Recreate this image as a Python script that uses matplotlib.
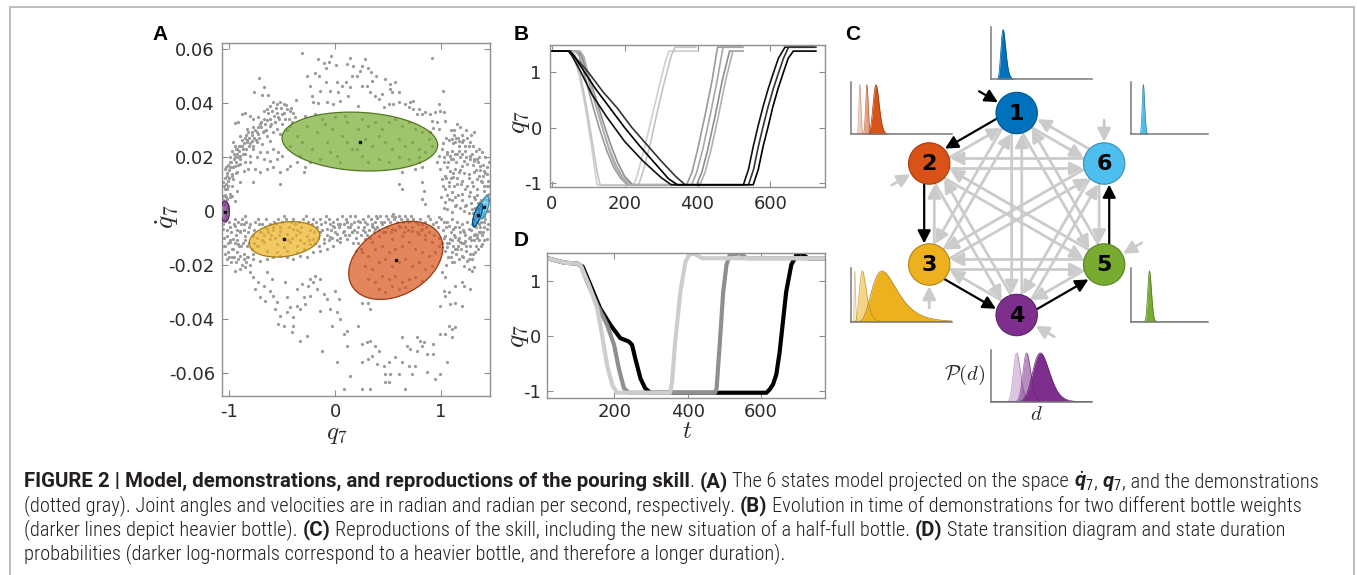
import numpy as np
import matplotlib
matplotlib.use("Agg")
import matplotlib.pyplot as plt
from matplotlib.patches import Circle, FancyArrowPatch, Rectangle
from matplotlib import font_manager
import matplotlib.colors as mcolors

# ------------------------------------------------------------------ data
# Panel A: demonstration samples (q7, dq7)
demo_upper_left = [
    (-0.315,0.0584),(-0.158,0.0561),(-0.038,0.0571),(-0.110,0.0547),(-0.057,0.0551),(0.006,0.0539),(-0.085,0.0527),
    (-0.262,0.050),(-0.195,0.051),(-0.148,0.050),(-0.718,0.049),(-0.668,0.0457),(-0.763,0.0438),(-0.693,0.0429),
    (-0.630,0.0429),(-0.369,0.041),(-0.236,0.0463),(-0.088,0.0477),(0.016,0.0477),(0.104,0.0477),(0.063,0.0463),
    (0.139,0.0457),(0.025,0.0438),(-0.142,0.0444),(-0.047,0.0444),(-0.221,0.0426),(-0.205,0.0403),(-0.158,0.0399),
    (-0.079,0.0401),(-0.016,0.0395),(0.047,0.0407),(0.126,0.0426),(0.157,0.050),(0.110,0.0543),(0.142,0.0564),(0.173,0.0537),
    (-0.583,0.0401),(-0.551,0.0395),(-0.520,0.0403),(-0.488,0.0395),(-0.457,0.0376),(-0.425,0.0370),(-0.614,0.0389),
    (-0.646,0.0376),(-0.677,0.0370),(-0.725,0.0346),(-0.772,0.0339),(-0.803,0.0349),(-0.851,0.036),(-0.882,0.0358),
    (-0.945,0.0325),(-0.914,0.0327),(-0.772,0.0309),(-0.709,0.0321),(-0.646,0.0337),(-0.614,0.0315),(-0.567,0.0327),
    (-0.536,0.0346),(-0.504,0.0358),(-0.473,0.0339),(-0.425,0.0315),(-0.725,0.0284),(-0.788,0.029),(-0.835,0.0302),
    (-0.677,0.0296),(-0.646,0.0278),(-0.583,0.029),(-0.551,0.0302),(-0.520,0.0284),(-0.898,0.0278),(-0.961,0.0253),
    (-0.929,0.0228),(-0.882,0.0241),(-0.835,0.0253),(-0.788,0.0259),(-0.740,0.0253),(-0.693,0.0247),(-0.614,0.0259),
    (-0.772,0.0228),(-0.709,0.0216),(-0.646,0.0216),(-0.583,0.0228),(-0.536,0.0216),(-0.992,0.0179),(-0.945,0.0198),
    (-0.898,0.0204),(-0.851,0.021),(-0.803,0.0204),(-0.740,0.0198),(-0.677,0.0191),(-0.614,0.0185),(-0.551,0.0191),
    (-0.504,0.0204),(-1.040,0.0154),(-0.992,0.016),(-0.945,0.0167),(-0.898,0.0173),(-0.851,0.0179),(-0.803,0.0179),
    (-0.756,0.0154),(-0.709,0.0142),(-0.646,0.0154),(-0.583,0.016),(-0.520,0.0142),(-0.457,0.0154),(-1.024,0.013),
    (-0.977,0.0136),(-0.929,0.0142),(-0.866,0.0148),(-0.819,0.0154),(-0.961,0.0117),(-0.898,0.0105),(-0.772,0.0105),
    (-0.520,0.0099),(-1.055,0.0105),(-1.040,0.008),(-1.008,0.0093),(-0.992,0.0062),(-1.024,0.0043),(-0.945,0.0037),
    (-0.977,0.0056),(-0.929,0.0074),(-1.055,0.0056),(-1.008,0.0019),(-0.299,0.0142),(-0.284,0.016),(-0.362,0.0179),
    (-0.425,0.0167),
    (-1.05,0.002),(-1.04,0.006),(-1.03,0.010),(-1.02,0.014),(-1.01,0.017),(-0.99,0.020),(-0.97,0.022),(-0.95,0.024),
    (-1.06,0.004),(-1.05,0.009),(-1.04,0.012),(-1.03,0.016),(-1.00,0.012),(-0.98,0.016),(-0.96,0.019),(-0.93,0.021),
    (-0.91,0.024),(-0.88,0.026),(-0.85,0.027),(-0.82,0.029),(-0.97,0.009),(-0.99,0.005),(-1.02,0.001),(-0.94,0.014),
    (-0.92,0.017),(-0.90,0.019),(-0.87,0.021),(-0.84,0.023),(-0.80,0.025),(-0.77,0.027),(-0.74,0.029),(-0.70,0.031),
    (-0.66,0.032),(-0.62,0.034),(-0.58,0.035),(-0.55,0.036),
    (-1.055,0.000),(-1.045,0.003),(-1.035,0.005),(-1.025,0.008),(-1.015,0.011),(-1.0,0.015),(-0.985,0.018),
    (-0.975,0.013),(-0.965,0.016),(-0.955,0.021),(-0.94,0.018),(-0.935,0.023),(-0.92,0.020),(-0.905,0.022),
    (-0.89,0.024),(-0.875,0.023),(-0.86,0.025),(-0.845,0.028),(-0.83,0.026),(-0.815,0.024),(-0.81,0.027),
    (-0.79,0.028),(-0.78,0.024),(-0.76,0.030),(-0.75,0.026),(-0.73,0.031),(-0.72,0.027),(-0.70,0.033),(-0.68,0.029),
    (-0.67,0.034),(-0.65,0.030),(-0.63,0.036),(-0.61,0.032),(-0.60,0.037),(-0.57,0.033),(-0.56,0.038),(-0.53,0.034),
    (-0.51,0.038),(-0.50,0.032),(-0.48,0.036),(-0.46,0.039),(-0.44,0.034),(-0.42,0.038),(-0.40,0.036),
    (-0.457,0.030),(-0.410,0.0327),(-0.362,0.0278),(-0.315,0.0253),(-0.268,0.0315),(-0.221,0.0228),(-0.173,0.029),
    (-0.126,0.0339),(-0.079,0.0253),(-0.032,0.0302),(0.016,0.0204),(0.063,0.0278),(0.110,0.0327),(0.157,0.0228),
    (-0.425,0.0241),(-0.331,0.0204),(-0.236,0.0179),(-0.142,0.0191),(-0.047,0.0216),(0.047,0.0179),(0.110,0.0253),
    (-0.378,0.0346),(-0.284,0.0352),(-0.189,0.0358),(-0.095,0.0321),(0.0,0.0346),(0.094,0.0352),
]
demo_upper_right = [
    (0.284,0.0561),(0.252,0.0537),(0.315,0.053),(0.340,0.0512),(0.236,0.0518),(0.347,0.0481),(0.252,0.0463),
    (0.331,0.0438),(0.378,0.0426),(0.410,0.0413),(0.441,0.0432),(0.520,0.0469),(0.567,0.0475),(0.599,0.0438),
    (0.536,0.0438),(0.520,0.045),(0.457,0.0383),(0.504,0.0395),(0.551,0.0395),(0.599,0.0401),(0.662,0.0395),
    (0.709,0.0401),(0.740,0.0407),(0.693,0.0383),(0.740,0.0376),(0.788,0.0376),(0.772,0.0358),(0.819,0.0358),
    (0.851,0.0364),(0.898,0.0358),(0.945,0.0364),(0.992,0.037),(1.024,0.0364),(0.914,0.0333),(0.961,0.0327),
    (0.929,0.0308),(0.977,0.0302),(0.898,0.029),(1.015,0.0444),(0.914,0.0567),(0.977,0.0395),(1.040,0.0333),
    (0.473,0.0487),(0.384,0.050),(0.299,0.0463),(0.205,0.050),(0.220,0.0389),
    (0.252,0.0339),(0.315,0.0315),(0.378,0.0327),(0.441,0.0302),(0.504,0.0327),(0.567,0.0339),(0.630,0.0315),
    (0.693,0.0327),(0.756,0.0302),(0.819,0.029),(0.882,0.0265),(0.284,0.0265),(0.347,0.0241),(0.410,0.0278),
    (0.473,0.0253),(0.536,0.0228),(0.599,0.0265),(0.662,0.0241),(0.725,0.0253),(0.788,0.0228),(0.851,0.0216),
    (0.914,0.0241),(0.252,0.0204),(0.315,0.0179),(0.410,0.0191),(0.504,0.0179),(0.599,0.0198),(0.693,0.0191),
    (0.788,0.0198),(0.220,0.0302),(0.205,0.0228),
    (0.788,0.0179),(0.819,0.016),(0.756,0.0154),(0.630,0.0142),(0.599,0.0099),(0.630,0.008),(0.819,0.0105),
    (0.835,0.0074),(0.819,0.0043),(0.851,0.0025),(1.040,0.0031),(1.055,0.0006),(1.103,-0.0006),(0.551,-0.0012),
    (0.567,-0.0024),(0.394,-0.0028),(0.977,-0.0024),
    (1.103,0.0265),(1.134,0.0253),(1.166,0.0259),(1.197,0.0253),(1.229,0.0241),(1.276,0.0253),(1.308,0.029),
    (1.355,0.0228),(1.386,0.0216),(1.418,0.0198),(1.449,0.0179),(1.008,0.0228),(1.055,0.0216),(1.087,0.0204),
    (1.118,0.0191),(1.150,0.021),(1.181,0.0198),(1.213,0.0185),(1.245,0.0173),(1.276,0.0204),(1.308,0.0185),
    (1.339,0.0191),(1.370,0.0167),(1.402,0.0148),(1.433,0.0136),(1.024,0.0179),(1.055,0.016),(1.087,0.0148),
    (1.134,0.0154),(1.166,0.0142),(1.197,0.0167),(1.260,0.0136),(1.308,0.0142),(1.339,0.0117),(1.386,0.0105),
    (1.433,0.0093),(1.008,0.0117),(1.040,0.013),(1.071,0.0105),(1.118,0.0123),(1.150,0.0099),(1.197,0.0111),
    (1.245,0.0093),(1.292,0.0105),(1.339,0.008),(1.402,0.0074),(1.449,0.0062),(1.040,0.008),(1.103,0.0068),
    (1.134,0.0049),(1.197,0.0062),(1.260,0.0056),(1.323,0.0043),(1.370,0.0031),(1.418,0.0043),(1.071,0.0043),
    (1.134,0.0019),(1.229,0.0019),(1.292,0.0006),(1.355,0.0006),(0.992,0.0154),(0.961,0.0179),(0.977,0.0204),
    (1.12,0.028),(1.16,0.027),(1.20,0.028),(1.25,0.027),(1.30,0.024),(1.33,0.022),(1.36,0.020),(1.40,0.017),
    (1.42,0.014),(1.44,0.011),(1.10,0.022),(1.14,0.018),(1.18,0.015),(1.22,0.014),(1.26,0.012),(1.30,0.009),
    (1.34,0.006),(1.38,0.004),(1.42,0.002),(1.44,0.0),(1.07,0.018),(1.09,0.012),(1.12,0.009),(1.16,0.006),
    (1.20,0.004),(1.24,0.002),(1.28,0.003),(1.32,0.001),
    (1.02,0.025),(1.05,0.027),(1.08,0.026),(1.11,0.025),(1.14,0.027),(1.17,0.024),(1.21,0.026),(1.23,0.022),
    (1.26,0.024),(1.29,0.021),(1.31,0.019),(1.35,0.018),(1.37,0.015),(1.40,0.013),(1.43,0.016),(1.45,0.009),
    (1.44,0.004),(1.43,0.006),(1.41,0.009),(1.38,0.011),(1.36,0.013),(1.33,0.015),(1.30,0.017),(1.27,0.019),
    (1.24,0.020),(1.20,0.021),(1.17,0.022),(1.13,0.021),(1.09,0.019),(1.06,0.021),(1.03,0.020),(1.05,0.012),
    (1.08,0.009),(1.11,0.014),(1.15,0.012),(1.19,0.010),(1.23,0.008),(1.27,0.007),(1.31,0.005),(1.35,0.003),
    (1.39,0.001),(1.41,-0.002),(1.06,0.006),(1.10,0.004),(1.14,0.002),(1.18,0.001),(1.22,0.000),(1.26,-0.001),
    (1.30,-0.001),(1.34,-0.004),(1.03,0.001),(1.00,0.005),(1.02,0.009),(1.12,0.030),(1.18,0.031),(1.24,0.030),
    (1.28,0.028),(1.15,0.032),(1.09,0.030),
]
demo_lower_left = [
    (-1.055,-0.0068),(-1.024,-0.0093),(-0.992,-0.0117),(-0.961,-0.0142),(-0.929,-0.0154),(-1.040,-0.013),
    (-1.008,-0.0154),(-0.977,-0.0173),(-0.898,-0.0167),(-0.866,-0.0179),(-0.835,-0.0173),(-0.772,-0.0179),
    (-0.709,-0.0185),(-0.646,-0.0179),(-0.583,-0.0173),(-0.520,-0.0167),(-0.457,-0.0173),(-0.394,-0.0179),
    (-0.331,-0.0167),(-0.268,-0.0173),(-0.205,-0.0154),(-0.142,-0.0148),(-0.079,-0.0142),(-0.016,-0.013),
    (0.047,-0.0117),(0.110,-0.0105),(-0.142,-0.008),(-0.079,-0.0068),(-0.016,-0.0056),(0.047,-0.005),(0.110,-0.0043),
    (0.157,-0.008),(-0.110,-0.0105),(-0.047,-0.0099),(0.016,-0.0087),(0.079,-0.0074),(0.142,-0.0062),(-0.945,-0.0056),
    (-0.898,-0.0074),(-0.851,-0.0093),(-0.866,-0.005),(-0.961,-0.0105),(-0.914,-0.0123),
    (-1.04,-0.003),(-1.00,-0.004),(-0.96,-0.005),(-0.92,-0.004),(-0.88,-0.003),(-0.84,-0.004),(-0.80,-0.005),
    (-0.76,-0.004),(-0.72,-0.005),(-1.02,-0.007),(-0.98,-0.008),(-0.94,-0.009),(-0.90,-0.008),(-0.86,-0.007),
    (-0.82,-0.008),(-0.78,-0.009),(-0.74,-0.010),(-0.70,-0.008),(-0.66,-0.006),(-0.62,-0.005),(-0.58,-0.004),
    (-0.54,-0.003),(-0.50,-0.004),(-0.46,-0.003),(-0.42,-0.004),(-0.38,-0.005),(-0.34,-0.004),(-0.30,-0.003),
    (-0.26,-0.004),(-0.22,-0.005),(-0.18,-0.004),(-0.14,-0.003),(-0.10,-0.004),(-0.06,-0.003),(-0.02,-0.004),
    (0.02,-0.003),(0.06,-0.002),(0.10,-0.003),(0.14,-0.002),(-0.20,-0.008),(-0.16,-0.010),(-0.12,-0.007),
    (-0.08,-0.009),(-0.04,-0.007),(0.0,-0.008),(0.04,-0.006),(0.08,-0.005),(0.12,-0.006),(-0.99,-0.011),
    (-0.95,-0.012),(-0.91,-0.013),(-0.87,-0.012),(-0.83,-0.013),(-0.79,-0.014),(-1.05,-0.010),(-1.06,-0.005),
    (-1.03,-0.002),(-0.99,-0.006),(-0.95,-0.003),(-0.93,-0.007),(-0.89,-0.005),(-0.85,-0.002),(-0.81,-0.006),
    (-0.77,-0.007),(-0.73,-0.003),(-0.69,-0.005),(-0.65,-0.003),(-0.63,-0.008),(-0.59,-0.007),(-0.56,-0.005),
    (-0.52,-0.006),(-0.48,-0.002),(-0.44,-0.006),(-0.40,-0.003),(-0.36,-0.007),(-0.32,-0.006),(-0.28,-0.002),
    (-0.24,-0.007),(-0.21,-0.003),(-0.17,-0.006),(-0.13,-0.005),(-0.09,-0.002),(-0.05,-0.005),(-0.01,-0.006),
    (0.03,-0.005),(0.07,-0.008),(0.11,-0.004),(0.15,-0.005),
    (-1.01,-0.012),(-0.97,-0.014),(-0.93,-0.011),(-0.89,-0.013),(-0.85,-0.011),(-0.81,-0.012),(-0.77,-0.012),
    (-0.73,-0.013),(-0.69,-0.011),(-0.67,-0.009),(-0.61,-0.009),(-0.57,-0.010),(-0.53,-0.009),(-0.49,-0.010),
    (-0.45,-0.011),(-0.41,-0.010),(-0.37,-0.009),(-0.33,-0.011),(-0.29,-0.012),(-0.25,-0.011),(-0.19,-0.012),
    (-0.15,-0.013),(-0.11,-0.012),(-0.06,-0.011),(-0.03,-0.010),(0.02,-0.011),(0.05,-0.010),(0.09,-0.009),(0.13,-0.009),
    (-1.05,-0.013),(-1.04,-0.016),(-1.02,-0.018),(-1.00,-0.017),(-0.98,-0.019),(-0.96,-0.017),(-0.94,-0.019),
    (-0.92,-0.018),(-0.88,-0.020),(-0.86,-0.016),(-0.84,-0.019),(-0.82,-0.017),(-0.80,-0.020),(-0.78,-0.016),
    (-0.772,-0.0093),(-0.709,-0.008),(-0.646,-0.0068),(-0.583,-0.0062),(-0.520,-0.0074),(-0.457,-0.0087),
    (-0.394,-0.0068),(-0.331,-0.008),(-0.268,-0.0093),(-0.205,-0.0105),(-0.740,-0.013),(-0.677,-0.0117),
    (-0.614,-0.0105),(-0.551,-0.0123),(-0.488,-0.0136),(-0.425,-0.0117),(-0.362,-0.013),(-0.299,-0.0142),
    (-0.236,-0.0123),(-0.646,-0.0148),(-0.551,-0.0154),(-0.457,-0.0148),(-0.362,-0.0154),
    (-0.945,-0.0222),(-0.898,-0.0216),(-0.851,-0.021),(-0.803,-0.0228),(-0.772,-0.0247),(-0.725,-0.0265),
    (-0.756,-0.029),(-0.709,-0.0321),(-0.662,-0.0333),(-0.614,-0.0296),(-0.583,-0.0315),(-0.551,-0.0339),
    (-0.567,-0.0364),(-0.520,-0.0389),(-0.536,-0.042),(-0.488,-0.0426),(-0.457,-0.0376),(-0.425,-0.0358),
    (-0.394,-0.0395),(-0.362,-0.0352),(-0.331,-0.0364),(-0.299,-0.0321),(-0.284,-0.0346),(-0.252,-0.0278),
    (-0.236,-0.0253),(-0.205,-0.0265),(-0.189,-0.0241),(-0.173,-0.029),(-0.142,-0.0253),(-0.110,-0.0309),
    (-0.079,-0.0327),(-0.047,-0.0364),(0.0,-0.0296),(0.016,-0.0376),(0.032,-0.0327),(0.047,-0.0401),
    (-0.394,-0.0426),(-0.410,-0.045),(-0.268,-0.0463),(-0.331,-0.0481),(-0.126,-0.052),(0.016,-0.0561),
    (0.079,-0.0456),(0.110,-0.050),(0.142,-0.0611),(0.079,-0.066),(-0.457,-0.0321),(-0.473,-0.0265),
    (-0.646,-0.0228),(-0.677,-0.0278),(-0.599,-0.0253),(-0.362,-0.029),(-0.315,-0.0271),(-0.236,-0.0315),
    (-0.142,-0.037),(-0.032,-0.0426),(0.110,-0.0444),
]
demo_lower_right = [
    (1.024,-0.0043),(1.071,-0.0056),(1.118,-0.0068),(1.166,-0.0062),(1.213,-0.008),(1.260,-0.0068),(1.308,-0.0056),
    (1.355,-0.005),(1.402,-0.0043),(1.040,-0.0093),(1.087,-0.0105),(1.134,-0.0099),(1.181,-0.0117),(1.229,-0.0111),
    (1.276,-0.0099),(1.323,-0.0087),(1.370,-0.008),(1.433,-0.0068),(1.055,-0.0136),(1.103,-0.0154),(1.150,-0.0142),
    (1.197,-0.0167),(1.245,-0.0185),(1.292,-0.0179),(1.323,-0.0154),(1.386,-0.0123),(1.433,-0.0105),(1.103,-0.0191),
    (1.213,-0.0204),(1.260,-0.0216),(1.292,-0.0222),(1.308,-0.021),(1.008,-0.0228),(1.040,-0.0247),(1.197,-0.0265),
    (1.213,-0.0278),(1.134,-0.0278),(1.276,-0.029),(1.024,-0.0296),(1.040,-0.0315),(1.071,-0.0302),(0.992,-0.0352),
    (1.087,-0.0346),(1.134,-0.034),(1.197,-0.0352),
    (1.10,-0.003),(1.15,-0.004),(1.20,-0.005),(1.25,-0.004),(1.30,-0.003),(1.35,-0.002),(1.40,-0.001),(1.05,-0.006),
    (1.12,-0.009),(1.18,-0.008),(1.23,-0.009),(1.28,-0.007),(1.33,-0.006),(1.38,-0.004),(1.08,-0.012),(1.16,-0.013),
    (1.22,-0.012),(1.27,-0.013),(1.31,-0.011),(1.36,-0.008),(1.41,-0.006),(1.00,-0.003),(0.95,-0.004),(0.90,-0.003),
    (0.85,-0.004),(0.80,-0.003),
    (1.03,-0.010),(1.06,-0.012),(1.10,-0.011),(1.13,-0.014),(1.16,-0.011),(1.20,-0.012),(1.24,-0.013),(1.28,-0.011),
    (1.31,-0.009),(1.34,-0.010),(1.37,-0.008),(1.40,-0.008),(1.05,-0.020),(1.09,-0.017),(1.12,-0.019),(1.17,-0.018),
    (1.21,-0.017),(1.26,-0.018),(1.30,-0.016),(1.35,-0.014),(1.38,-0.013),
    (0.19,-0.002),(0.23,-0.004),(0.27,-0.006),(0.31,-0.002),(0.35,-0.005),(0.39,-0.002),(0.43,-0.004),(0.48,-0.002),
    (0.52,-0.004),(0.56,-0.003),(0.60,-0.002),(0.64,-0.004),(0.68,-0.003),(0.72,-0.002),(0.76,-0.004),(0.82,-0.005),
    (0.86,-0.006),(0.88,-0.002),(0.92,-0.005),(0.97,-0.006),(1.02,-0.007),(1.06,-0.004),(1.09,-0.008),(1.13,-0.006),
    (1.17,-0.010),(1.21,-0.007),(1.26,-0.010),(1.29,-0.005),(1.34,-0.009),(1.37,-0.006),(1.39,-0.002),(1.42,-0.003),
    (1.44,-0.005),
    (0.18,-0.007),(0.22,-0.012),(0.26,-0.007),(0.30,-0.009),(0.33,-0.010),(0.37,-0.008),(0.41,-0.007),(0.45,-0.008),
    (0.49,-0.006),(0.53,-0.008),(0.57,-0.007),(0.61,-0.006),(0.65,-0.008),(0.69,-0.007),(0.73,-0.006),(0.77,-0.008),
    (0.81,-0.007),(0.85,-0.009),(0.89,-0.008),(0.93,-0.009),(0.98,-0.010),(1.01,-0.012),(1.04,-0.015),(1.07,-0.017),
    (1.11,-0.013),(1.14,-0.016),(1.19,-0.014),(1.24,-0.015),(1.27,-0.016),(1.33,-0.013),(1.36,-0.011),(1.39,-0.009),
    (1.41,-0.011),
    (0.220,-0.0037),(0.284,-0.0043),(0.347,-0.0056),(0.205,-0.008),
    (0.18,-0.004),(0.22,-0.006),(0.26,-0.003),(0.30,-0.005),(0.34,-0.003),(0.38,-0.004),(0.42,-0.002),(0.46,-0.004),
    (0.50,-0.003),(0.54,-0.002),(0.58,-0.004),(0.62,-0.003),(0.66,-0.002),(0.70,-0.004),(0.74,-0.003),(0.78,-0.005),
    (0.16,-0.008),(0.20,-0.010),(0.24,-0.009),(0.28,-0.008),(0.32,-0.007),(0.36,-0.006),(0.40,-0.006),(0.44,-0.005),
    (0.24,-0.014),(0.20,-0.015),(0.17,-0.012),
    (0.284,-0.0105),(0.347,-0.0117),(0.410,-0.0093),(0.473,-0.008),(0.536,-0.0068),(0.599,-0.0056),(0.662,-0.0062),
    (0.725,-0.0074),(0.788,-0.0087),(0.851,-0.0105),(0.914,-0.0117),(0.977,-0.013),(0.252,-0.0154),(0.315,-0.0167),
    (0.378,-0.0142),(0.441,-0.013),(0.504,-0.0154),(0.567,-0.0142),(0.630,-0.013),(0.693,-0.0117),(0.756,-0.0142),
    (0.819,-0.0154),(0.882,-0.0167),(0.945,-0.0154),(0.284,-0.0204),(0.347,-0.0216),(0.410,-0.0191),(0.473,-0.0179),
    (0.536,-0.0204),(0.599,-0.0191),(0.662,-0.0179),(0.725,-0.0204),(0.788,-0.0191),(0.851,-0.0216),(0.914,-0.0204),
    (0.315,-0.0253),(0.378,-0.0265),(0.441,-0.0241),(0.504,-0.0253),(0.567,-0.0241),(0.630,-0.0265),(0.693,-0.0253),
    (0.756,-0.0247),(0.819,-0.0259),(0.410,-0.029),(0.473,-0.0302),(0.536,-0.0278),(0.599,-0.029),(0.662,-0.0284),
    (0.536,-0.0105),(0.630,-0.0093),(0.819,-0.0068),(0.378,-0.0068),
    (0.252,-0.034),(0.315,-0.034),(0.331,-0.0364),(0.220,-0.0426),(1.071,-0.0426),(1.103,-0.0438),(1.134,-0.0432),
    (1.040,-0.0456),(0.992,-0.0456),(1.103,-0.0469),(0.630,-0.0469),(0.772,-0.0469),(0.803,-0.0481),(0.835,-0.0487),
    (0.252,-0.0493),(0.299,-0.0487),(0.331,-0.0481),(0.378,-0.050),(0.347,-0.0537),(0.410,-0.0518),(0.394,-0.0567),
    (0.457,-0.0574),(0.504,-0.0561),(0.567,-0.0543),(0.630,-0.0561),(0.677,-0.050),(0.709,-0.0512),(0.772,-0.0518),
    (0.819,-0.050),(0.866,-0.053),(0.929,-0.053),(0.929,-0.0493),(0.693,-0.0574),(0.756,-0.0574),(0.252,-0.0561),
    (0.315,-0.0549),(0.473,-0.0604),(0.520,-0.0604),(0.599,-0.0604),(0.725,-0.0604),(0.866,-0.0598),(0.945,-0.0623),
    (0.992,-0.0604),(1.055,-0.0561),(0.473,-0.0635),(0.504,-0.0635),(0.252,-0.066),(0.331,-0.066),(0.662,-0.066),
]

# Panel A: Gaussian states (means, std-devs, correlation)
state_labels = ['1', '2', '3', '4', '5', '6']
state_colors = ['#0072BD', '#D95319', '#EDB120', '#7E2F8E', '#77AC30', '#4DBEEE']
state_q = [1.345, 0.573, -0.479, -1.039, 0.233, 1.408]
state_dq = [-0.0016, -0.0184, -0.0106, -0.0003, 0.0256, 0.0012]
state_sq = [0.047, 0.445, 0.334, 0.040, 0.735, 0.047]
state_sdq = [0.0043, 0.01445, 0.00655, 0.0039, 0.0109, 0.0043]
state_rho = [0.70, 0.33, 0.22, 0.0, -0.12, 0.60]

A_xticks = [-1, 0, 1]
A_xticklabels = ['-1', '0', '1']
A_yticks = [0.06, 0.04, 0.02, 0.0, -0.02, -0.04, -0.06]
A_yticklabels = ['0.06', '0.04', '0.02', '0', '-0.02', '-0.04', '-0.06']

# Panel B: demonstrations q7(t)
B_light = [
    ([0, 52, 60, 75, 90, 105, 118, 124, 225, 235, 255, 275, 295, 312, 322, 400],
     [1.38, 1.38, 1.30, 0.95, 0.45, -0.15, -0.75, -1.03, -1.03, -0.85, -0.35, 0.2, 0.75, 1.2, 1.38, 1.38]),
    ([0, 58, 66, 80, 96, 112, 126, 133, 238, 250, 270, 290, 310, 328, 338, 395],
     [1.38, 1.38, 1.28, 0.9, 0.35, -0.3, -0.85, -1.04, -1.04, -0.8, -0.3, 0.3, 0.85, 1.3, 1.45, 1.45]),
]
B_mid = [
    ([0, 65, 75, 90, 110, 130, 150, 170, 190, 208, 370, 385, 400, 420, 440, 455, 522],
     [1.38, 1.38, 1.30, 0.95, 0.45, 0.0, -0.40, -0.72, -0.92, -1.03, -1.03, -0.80, -0.40, 0.20, 0.85, 1.45, 1.45]),
    ([0, 70, 80, 95, 115, 135, 155, 175, 195, 218, 384, 398, 414, 434, 454, 470, 525],
     [1.38, 1.38, 1.30, 0.98, 0.52, 0.08, -0.33, -0.66, -0.90, -1.03, -1.03, -0.80, -0.40, 0.20, 0.85, 1.45, 1.45]),
    ([0, 72, 82, 100, 120, 140, 160, 180, 200, 222, 398, 412, 428, 448, 468, 488, 525],
     [1.38, 1.38, 1.30, 0.95, 0.55, 0.12, -0.28, -0.62, -0.88, -1.03, -1.03, -0.80, -0.40, 0.20, 0.85, 1.38, 1.38]),
    ([0, 78, 88, 102, 120, 138, 156, 174, 194, 215, 407, 421, 437, 457, 477, 497, 525],
     [1.38, 1.38, 1.28, 0.92, 0.45, 0.02, -0.38, -0.70, -0.92, -1.03, -1.03, -0.80, -0.40, 0.20, 0.85, 1.38, 1.38]),
]
B_dark = [
    ([0, 45, 55, 80, 110, 150, 200, 250, 300, 328, 526, 540, 553, 566, 580, 594, 608, 622, 640, 720],
     [1.38, 1.38, 1.30, 1.0, 0.6, 0.2, -0.25, -0.6, -0.9, -1.03, -1.03, -0.75, -0.34, 0.02, 0.38, 0.7, 0.98, 1.25, 1.45, 1.45]),
    ([0, 48, 60, 100, 140, 180, 220, 260, 300, 340, 366, 540, 554, 567, 580, 594, 608, 622, 636, 650, 725],
     [1.38, 1.38, 1.30, 1.0, 0.65, 0.35, 0.0, -0.3, -0.6, -0.88, -1.03, -1.03, -0.75, -0.34, 0.02, 0.38, 0.7, 0.98, 1.25, 1.45, 1.45]),
    ([0, 50, 62, 90, 120, 160, 200, 240, 280, 320, 345, 553, 567, 580, 594, 607, 621, 635, 649, 663, 725],
     [1.38, 1.38, 1.28, 1.0, 0.7, 0.35, 0.0, -0.32, -0.62, -0.92, -1.03, -1.03, -0.75, -0.34, 0.02, 0.38, 0.7, 0.98, 1.25, 1.38, 1.38]),
]
B_light_colors = ['#cfcfcf', '#c4c4c4']
B_mid_colors = ['#9a9a9a', '#a6a6a6', '#8e8e8e', '#b0b0b0']
B_dark_colors = ['#111111', '#333333', '#000000']

# Panel D: reproductions q7(t)
D_black_t = [17, 63, 100, 113, 134, 161, 189, 216, 239, 248, 257, 271, 284, 298, 615, 624, 633, 642, 651, 660, 669, 683, 697, 710, 728, 774]
D_black_q = [1.41, 1.33, 1.31, 1.26, 0.93, 0.50, 0.20, -0.04, -0.10, -0.16, -0.41, -0.77, -0.95, -1.03, -1.03, -0.97, -0.88, -0.70, -0.30, 0.25, 0.80, 1.29, 1.47, 1.50, 1.41, 1.41]
D_gray_t = [17, 63, 100, 110, 125, 153, 180, 199, 212, 226, 240, 475, 479, 488, 497, 506, 515, 543, 561, 774]
D_gray_q = [1.41, 1.33, 1.31, 1.25, 0.99, 0.56, 0.20, -0.16, -0.59, -0.95, -1.03, -1.03, -0.95, -0.10, 0.80, 1.29, 1.47, 1.50, 1.41, 1.41]
D_light_t = [17, 63, 100, 107, 130, 153, 166, 180, 194, 207, 352, 357, 366, 380, 394, 407, 425, 439, 774]
D_light_q = [1.41, 1.33, 1.31, 1.29, 0.93, 0.50, 0.02, -0.53, -0.89, -1.03, -1.03, -0.85, -0.10, 0.80, 1.35, 1.50, 1.47, 1.41, 1.41]

# Panel C: duration log-normals (mode, log-sigma), lighter -> darker
dur_modes = [[0.12], [0.09, 0.16, 0.25], [0.04, 0.115, 0.31], [0.255, 0.354, 0.49], [0.24], [0.16]]
dur_sigmas = [[0.20], [0.11, 0.08, 0.12], [0.17, 0.30, 0.40], [0.14, 0.11, 0.17], [0.10], [0.10]]
node_angles = [90, 150, 210, 270, 330, 30]
sequence_edges = [(0, 1), (1, 2), (2, 3), (3, 4), (4, 5)]

caption_lines = [
    [("FIGURE 2 | Model, demonstrations, and reproductions of the pouring skill", 'b'), (". ", 'r'), ("(A)", 'b'),
     (" The 6 states model projected on the space ", 'r'), (r"$\dot{\mathbf{q}}_7$", 'm'), (", ", 'r'),
     (r"$\mathbf{q}_7$", 'm'), (", and the demonstrations", 'r')],
    [("(dotted gray). Joint angles and velocities are in radian and radian per second, respectively. ", 'r'), ("(B)", 'b'),
     (" Evolution in time of demonstrations for two different bottle weights", 'r')],
    [("(darker lines depict heavier bottle). ", 'r'), ("(C)", 'b'),
     (" Reproductions of the skill, including the new situation of a half-full bottle. ", 'r'), ("(D)", 'b'),
     (" State transition diagram and state duration", 'r')],
    [("probabilities (darker log-normals correspond to a heavier bottle, and therefore a longer duration).", 'r')],
]

# ------------------------------------------------------------------ setup
avail = {f.name for f in font_manager.fontManager.ttflist}
cap_font = 'Liberation Sans'
for cand in ['Liberation Sans Narrow', 'Roboto Condensed', 'Liberation Sans']:
    if cand in avail:
        cap_font = cand
        break
bold_font = 'Roboto' if 'Roboto' in avail else cap_font

plt.rcParams['axes.unicode_minus'] = False
plt.rcParams['font.family'] = ['DejaVu Sans']
plt.rcParams['mathtext.rm'] = cap_font
plt.rcParams['mathtext.it'] = cap_font + ':italic'
plt.rcParams['mathtext.bf'] = bold_font + ':italic:bold'

W, H = 1357, 575
fig = plt.figure(figsize=(W / 100, H / 100), dpi=100)
fig.patch.set_facecolor('white')


def box(x0, y0, x1, y1):
    return [x0 / W, 1 - y1 / H, (x1 - x0) / W, (y1 - y0) / H]


def darker(c, f=0.7):
    r, g, b = mcolors.to_rgb(c)
    return (r * f, g * f, b * f)


def style_axes(ax, fs, pad):
    for s in ax.spines.values():
        s.set_color('#8f8f8f')
        s.set_linewidth(1.0)
    ax.tick_params(direction='in', length=4, width=0.8, color='#8f8f8f', labelsize=fs,
                   labelcolor='#2b2b2b', top=True, right=True, pad=pad)


label_color = '#2b2b2b'

# frame
fig.add_artist(Rectangle((10 / W, -0.05), 1344 / W, 1 - 7 / H + 0.05, transform=fig.transFigure,
                         fill=False, ec='#b8b8b8', lw=1.3))

# ------------------------------------------------------------------ Panel A
axA = fig.add_axes(box(221.7, 42.7, 490, 396))
pts = np.array(demo_upper_left + demo_upper_right + demo_lower_left + demo_lower_right)
axA.scatter(pts[:, 0], pts[:, 1], s=5.5, c='#9b9b9b', linewidths=0, zorder=1)
tt = np.linspace(0, 2 * np.pi, 240)
for k in [3, 2, 1, 4, 0, 5]:
    col = state_colors[k]
    ex = state_q[k] + state_sq[k] * np.cos(tt)
    ey = state_dq[k] + state_sdq[k] * (state_rho[k] * np.cos(tt) + np.sqrt(1 - state_rho[k] ** 2) * np.sin(tt))
    axA.fill(ex, ey, fc=col, alpha=0.7, lw=0, zorder=2)
    axA.plot(ex, ey, color=darker(col), lw=0.9, zorder=3)
    axA.plot([state_q[k]], [state_dq[k]], 's', ms=2, color='#111111', zorder=4)
axA.set_xlim(-1.072, 1.463)
axA.set_ylim(-0.0686, 0.0622)
axA.set_xticks(A_xticks)
axA.set_xticklabels(A_xticklabels)
axA.set_yticks(A_yticks)
axA.set_yticklabels(A_yticklabels)
style_axes(axA, 13, 5)
fig.text(167 / W, 1 - 216 / H, r'$\dot{q}_7$', rotation=90, ha='center', va='center', fontsize=20,
         math_fontfamily='cm', color=label_color)
fig.text(337 / W, 1 - 434 / H, r'$q_7$', ha='center', va='center', fontsize=18,
         math_fontfamily='cm', color=label_color)

# ------------------------------------------------------------------ Panel B
axB = fig.add_axes(box(550, 45, 825, 186.7))
for (t, q), c in zip(B_light, B_light_colors):
    axB.plot(t, q, color=c, lw=1.2)
for (t, q), c in zip(B_mid, B_mid_colors):
    axB.plot(t, q, color=c, lw=1.2)
for (t, q), c in zip(B_dark, B_dark_colors):
    axB.plot(t, q, color=c, lw=1.2)
axB.set_xlim(-5, 750)
axB.set_ylim(-1.065, 1.49)
axB.set_xticks([0, 200, 400, 600])
axB.set_yticks([-1, 0, 1])
style_axes(axB, 13, 6)
fig.text(518 / W, 1 - 122 / H, r'$q_7$', rotation=90, ha='center', va='center', fontsize=20,
         math_fontfamily='cm', color=label_color)

# ------------------------------------------------------------------ Panel D
axD = fig.add_axes(box(546.7, 252.7, 825, 397.7))
axD.plot(D_black_t, D_black_q, color='#000000', lw=3.0, solid_joinstyle='round')
axD.plot(D_gray_t, D_gray_q, color='#8f8f8f', lw=3.0, solid_joinstyle='round')
axD.plot(D_light_t, D_light_q, color='#cdcdcd', lw=3.0, solid_joinstyle='round')
axD.set_xlim(15, 775)
axD.set_ylim(-1.12, 1.51)
axD.set_xticks([200, 400, 600])
axD.set_yticks([-1, 0, 1])
style_axes(axD, 13, 4)
fig.text(517 / W, 1 - 336 / H, r'$q_7$', rotation=90, ha='center', va='center', fontsize=20,
         math_fontfamily='cm', color=label_color)
fig.text(687 / W, 1 - 431 / H, r'$t$', ha='center', va='center', fontsize=18,
         math_fontfamily='cm', color=label_color)

# ------------------------------------------------------------------ Panel C
axC = fig.add_axes(box(1016.7 - 151.5, 214 - 151.5, 1016.7 + 151.5, 214 + 151.5))
axC.set_xlim(-1.5, 1.5)
axC.set_ylim(-1.5, 1.5)
axC.set_aspect('equal')
axC.axis('off')
centers = np.array([[np.cos(np.radians(a)), np.sin(np.radians(a))] for a in node_angles])
r_node = 0.205
off = 0.05


def edge(i, j, color, lw, z):
    ci, cj = centers[i], centers[j]
    u = (cj - ci) / np.linalg.norm(cj - ci)
    n = np.array([u[1], -u[0]])
    rr = np.sqrt(r_node ** 2 - off ** 2)
    p0 = ci + u * rr + n * off
    p1 = cj - u * (rr + 0.01) + n * off
    axC.add_patch(FancyArrowPatch(p0, p1, arrowstyle='-|>,head_length=0.55,head_width=0.28',
                                  mutation_scale=14, color=color, lw=lw, shrinkA=0, shrinkB=0, zorder=z))


for i in range(6):
    for j in range(6):
        if i != j and (i, j) not in sequence_edges:
            edge(i, j, '#cbcbcb', 2.0, 1)
for (i, j) in sequence_edges:
    edge(i, j, '#000000', 1.6, 2)
for k in range(6):
    a = np.radians(node_angles[k] + 60)
    dvec = np.array([np.cos(a), np.sin(a)])
    col = '#000000' if k == 0 else '#cbcbcb'
    axC.add_patch(FancyArrowPatch(centers[k] + 0.43 * dvec, centers[k] + (r_node + 0.01) * dvec,
                                  arrowstyle='-|>,head_length=0.55,head_width=0.28', mutation_scale=14,
                                  color=col, lw=1.6 if k == 0 else 2.0, shrinkA=0, shrinkB=0, zorder=2))
for k in range(6):
    axC.add_patch(Circle(centers[k], r_node, fc=state_colors[k], ec=darker(state_colors[k], 0.75), lw=0.8, zorder=3))
    axC.text(centers[k][0], centers[k][1] - 0.005, state_labels[k], ha='center', va='center', fontsize=16,
             fontweight='bold', color='black', zorder=4)

# duration histograms
hist_boxes = [(991, 26.7, 1091.7, 79.3), (850.7, 81.7, 951.7, 134.3), (850.7, 268, 951.7, 321.7),
              (991, 350, 1091.7, 401.7), (1131, 268, 1208, 321.7), (1131, 81.7, 1208, 134.3)]
dgrid = np.linspace(0.002, 1.0, 600)
for k in range(6):
    axh = fig.add_axes(box(*hist_boxes[k]))
    col = state_colors[k]
    nm = len(dur_modes[k])
    alphas = [0.28, 0.55, 1.0] if nm == 3 else [1.0]
    for m, s, al in zip(dur_modes[k], dur_sigmas[k], alphas):
        mu = np.log(m) + s ** 2
        p = np.exp(-(np.log(dgrid) - mu) ** 2 / (2 * s ** 2)) / dgrid
        p = p / p.max()
        axh.fill_between(dgrid, 0, p, color=col, alpha=al, lw=0)
        axh.plot(dgrid, p, color=darker(col), lw=0.5, alpha=min(1.0, al + 0.15))
    axh.set_xlim(0, 1)
    axh.set_ylim(0, 1.06)
    axh.set_xticks([])
    axh.set_yticks([])
    for sname in ['top', 'right']:
        axh.spines[sname].set_visible(False)
    for sname in ['left', 'bottom']:
        axh.spines[sname].set_color('#7a7a7a')
        axh.spines[sname].set_linewidth(1.1)
    axh.patch.set_alpha(0)
    if k == 3:
        axh.text(-0.06, 0.52, r'$\mathcal{P}(d)$', transform=axh.transAxes, ha='right', va='center',
                 fontsize=15, math_fontfamily='cm', color=label_color)
        axh.text(0.45, -0.24, r'$d$', transform=axh.transAxes, ha='center', va='center',
                 fontsize=15, math_fontfamily='cm', color=label_color)

# panel letters
for letter, (px, py) in zip(['A', 'B', 'D', 'C'], [(160, 35), (521, 34), (521, 240), (853, 35)]):
    fig.text(px / W, 1 - py / H, letter, ha='center', va='center', fontsize=15, fontweight='bold',
             family='Liberation Sans', color='black')

# ------------------------------------------------------------------ caption
renderer = fig.canvas.get_renderer()
cap_color = '#231f20'


def piece_kw(kind, size):
    kw = dict(fontsize=size, color=cap_color, family=cap_font, ha='left', va='baseline')
    if kind == 'b':
        kw['fontweight'] = 'bold'
        kw['family'] = bold_font
    elif kind == 'm':
        kw['math_fontfamily'] = 'custom'
    else:
        kw['fontweight'] = 'light'
    return kw


def width_of(s, kw):
    t = fig.text(0, 0, s, **kw)
    w = t.get_window_extent(renderer).width
    t.remove()
    return w


def line_width(pieces, size):
    sp = width_of('a a', piece_kw('r', size)) - width_of('aa', piece_kw('r', size))
    total = 0
    for s, kind in pieces:
        core = s.strip(' ')
        total += (len(s) - len(s.lstrip(' '))) * sp
        if core:
            total += width_of(core, piece_kw(kind, size))
        total += (len(s) - len(s.rstrip(' '))) * sp
    return total


ref_size = 10.0
w2 = line_width(caption_lines[1], ref_size)
cap_size = ref_size * (1303 - 24) / w2

baselines = [487, 511.5, 535.5, 559.5]
for pieces, yb in zip(caption_lines, baselines):
    sp = width_of('a a', piece_kw('r', cap_size)) - width_of('aa', piece_kw('r', cap_size))
    x = 24.0
    for s, kind in pieces:
        core = s.strip(' ')
        x += (len(s) - len(s.lstrip(' '))) * sp
        if core:
            kw = piece_kw(kind, cap_size)
            t = fig.text(x / W, 1 - yb / H, core, **kw)
            x += t.get_window_extent(renderer).width
        x += (len(s) - len(s.rstrip(' '))) * sp

fig.savefig('out.png', dpi=100)
